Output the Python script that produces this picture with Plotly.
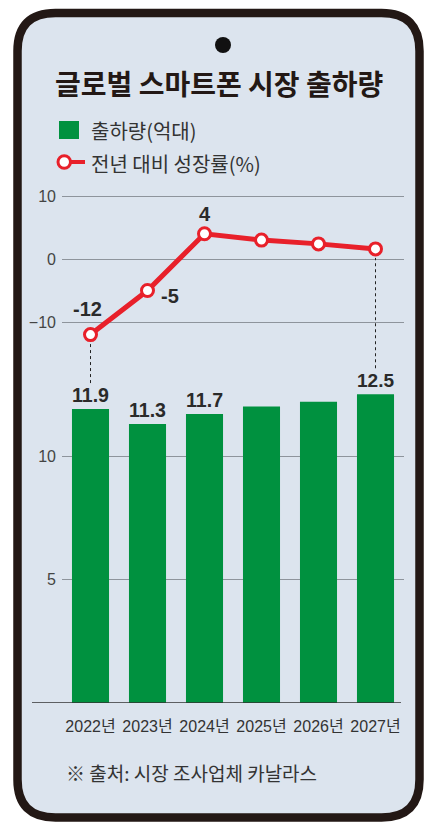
import plotly.graph_objects as go

# ---------------- data ----------------
years = ["2022년", "2023년", "2024년", "2025년", "2026년", "2027년"]
shipments = [11.9, 11.3, 11.7, 12.0, 12.2, 12.5]          # 출하량(억대)
shipment_labels = ["11.9", "11.3", "11.7", "", "", "12.5"]
growth = [-12, -5, 4, 3.0, 2.4, 1.6]                       # 전년 대비 성장률(%)
growth_labels = ["-12", "-5", "4", "", "", ""]
growth_ticks = [-10, 0, 10]
growth_ticktext = ["\u221210", "0", "10"]
ship_ticks = [5, 10]
ship_ticktext = ["5", "10"]
connector_years = [0, 5]

title = "글로벌 스마트폰 시장 출하량"
legend_bar = "출하량(억대)"
legend_line = "전년 대비 성장률(%)"
source = "※ 출처: 시장 조사업체 카날라스"

# ---------------- layout helpers ----------------
W, H = 425, 827
def px(x):
    return x / W
def py(y):
    return 1 - y / H

GREEN = "#00913f"
RED = "#e8202a"
DARK = "#231815"
BG = "#dce4ee"
GRID = "#8e949c"
TXT = "#2a2a2a"
NARROW = "Liberation Sans Narrow, Liberation Sans, Noto Sans CJK KR"
KR = "Noto Sans CJK KR, Noto Sans, sans-serif"

x_dom = [px(62), px(404)]
x_rng = [-0.5, 5.5]

# bar axis: 0 -> 703px, 24.7 px per unit
bar_rng = [0, 13]
bar_dom = [py(703), py(703 - 24.7 * 13)]
# line axis: 0 -> 259px, 6.3 px per unit
line_rng = [-14, 12]
line_dom = [py(259 + 6.3 * 14), py(259 - 6.3 * 12)]

def bar_to_paper(v):
    return bar_dom[0] + (v - bar_rng[0]) / (bar_rng[1] - bar_rng[0]) * (bar_dom[1] - bar_dom[0])
def line_to_paper(v):
    return line_dom[0] + (v - line_rng[0]) / (line_rng[1] - line_rng[0]) * (line_dom[1] - line_dom[0])

fig = go.Figure()

fig.add_trace(go.Bar(
    x=years, y=shipments, xaxis="x", yaxis="y",
    marker=dict(color=GREEN, line=dict(width=0)), width=0.65,
    text=shipment_labels, textposition="outside", cliponaxis=False,
    textfont=dict(family="Liberation Sans, Arial", size=20, color=TXT, weight="bold"),
    showlegend=False, hoverinfo="skip",
))

fig.add_trace(go.Scatter(
    x=years, y=growth, xaxis="x2", yaxis="y2", mode="lines+markers",
    line=dict(color=RED, width=5),
    marker=dict(size=12, color="white", line=dict(color=RED, width=3)),
    showlegend=False, hoverinfo="skip", cliponaxis=False,
))

# growth value labels (placed relative to each data point)
label_shift = {0: (-3, 26), 1: (22, -5), 2: (0, 20)}

def rrect_path(x0, y0, x1, y1, r):
    rx, ry = r / W, r / H
    X0, X1 = px(x0), px(x1)
    Y0, Y1 = py(y0), py(y1)  # Y0 top, Y1 bottom
    return (f"M {X0+rx},{Y0} L {X1-rx},{Y0} Q {X1},{Y0} {X1},{Y0-ry} "
            f"L {X1},{Y1+ry} Q {X1},{Y1} {X1-rx},{Y1} "
            f"L {X0+rx},{Y1} Q {X0},{Y1} {X0},{Y1+ry} "
            f"L {X0},{Y0-ry} Q {X0},{Y0} {X0+rx},{Y0} Z")

shapes = [
    dict(type="path", xref="paper", yref="paper", layer="below",
         path=rrect_path(17.5, 13, 419.5, 817.5, 38),
         fillcolor=BG, line=dict(color=DARK, width=8.5)),
    # camera dot
    dict(type="circle", xref="paper", yref="paper", layer="above",
         x0=px(215), x1=px(231), y0=py(53), y1=py(37),
         fillcolor="#111111", line=dict(width=0)),
    # legend: bar swatch
    dict(type="rect", xref="paper", yref="paper",
         x0=px(59), x1=px(79), y0=py(139), y1=py(121),
         fillcolor=GREEN, line=dict(width=0)),
    # legend: line swatch
    dict(type="line", xref="paper", yref="paper",
         x0=px(62), x1=px(85), y0=py(162), y1=py(162),
         line=dict(color=RED, width=4)),
    dict(type="circle", xref="paper", yref="paper",
         x0=px(58), x1=px(70.5), y0=py(168.3), y1=py(155.7),
         fillcolor="white", line=dict(color=RED, width=3)),
    # baseline of bars
    dict(type="line", xref="paper", yref="y", x0=px(32), x1=px(401), y0=0, y1=0,
         line=dict(color="#333333", width=1.5)),
]
for i in connector_years:
    top = line_to_paper(growth[i]) - 9 / H
    bottom = bar_to_paper(shipments[i]) + 26 / H
    shapes.append(dict(type="line", xref="x", yref="paper", x0=i, x1=i, y0=bottom, y1=top,
                       line=dict(color="#222222", width=1, dash="dot")))

annotations = [
    dict(text=f"<b>{title}</b>", x=px(219), y=py(83), xref="paper", yref="paper",
         showarrow=False, xanchor="center", yanchor="middle",
         font=dict(family=KR, size=28, color=DARK)),
    dict(text=legend_bar, x=px(89), y=py(130), xref="paper", yref="paper",
         showarrow=False, xanchor="left", yanchor="middle",
         font=dict(family=KR, size=20, color="#333333")),
    dict(text=legend_line, x=px(89), y=py(163), xref="paper", yref="paper",
         showarrow=False, xanchor="left", yanchor="middle",
         font=dict(family=KR, size=20, color="#333333")),
    dict(text=source, x=px(64), y=py(772), xref="paper", yref="paper",
         showarrow=False, xanchor="left", yanchor="middle",
         font=dict(family=KR, size=19, color="#333333")),
]
for i, lab in enumerate(growth_labels):
    if lab:
        dx, dy = label_shift.get(i, (0, 20))
        annotations.append(dict(
            text=f"<b>{lab}</b>", x=years[i], y=growth[i], xref="x2", yref="y2",
            showarrow=False, xanchor="center", yanchor="middle", xshift=dx, yshift=dy,
            font=dict(family="Liberation Sans, Arial", size=20, color=TXT)))

fig.update_layout(
    width=W, height=H, margin=dict(l=0, r=0, t=0, b=0),
    paper_bgcolor="white", plot_bgcolor="rgba(0,0,0,0)",
    bargap=0.35, shapes=shapes, annotations=annotations,
    xaxis=dict(domain=x_dom, range=x_rng, type="category", anchor="y",
               showgrid=False, zeroline=False, showline=False, ticks="",
               tickfont=dict(family=NARROW, size=16, color="#333333"),
               ticklabelstandoff=12),
    yaxis=dict(domain=bar_dom, range=bar_rng, anchor="x",
               tickvals=ship_ticks, ticktext=ship_ticktext,
               showgrid=True, gridcolor=GRID, gridwidth=1.2, zeroline=False,
               showline=False, ticks="",
               tickfont=dict(family=NARROW, size=16, color="#444444"),
               ticklabelstandoff=5),
    xaxis2=dict(domain=x_dom, range=x_rng, type="category", anchor="y2",
                showgrid=False, zeroline=False, showline=False, showticklabels=False, ticks=""),
    yaxis2=dict(domain=line_dom, range=line_rng, anchor="x2",
                tickvals=growth_ticks, ticktext=growth_ticktext,
                showgrid=True, gridcolor=GRID, gridwidth=1.2, zeroline=False,
                showline=False, ticks="",
                tickfont=dict(family=NARROW, size=16, color="#444444"),
                ticklabelstandoff=5),
)

fig.write_html("out.html")
